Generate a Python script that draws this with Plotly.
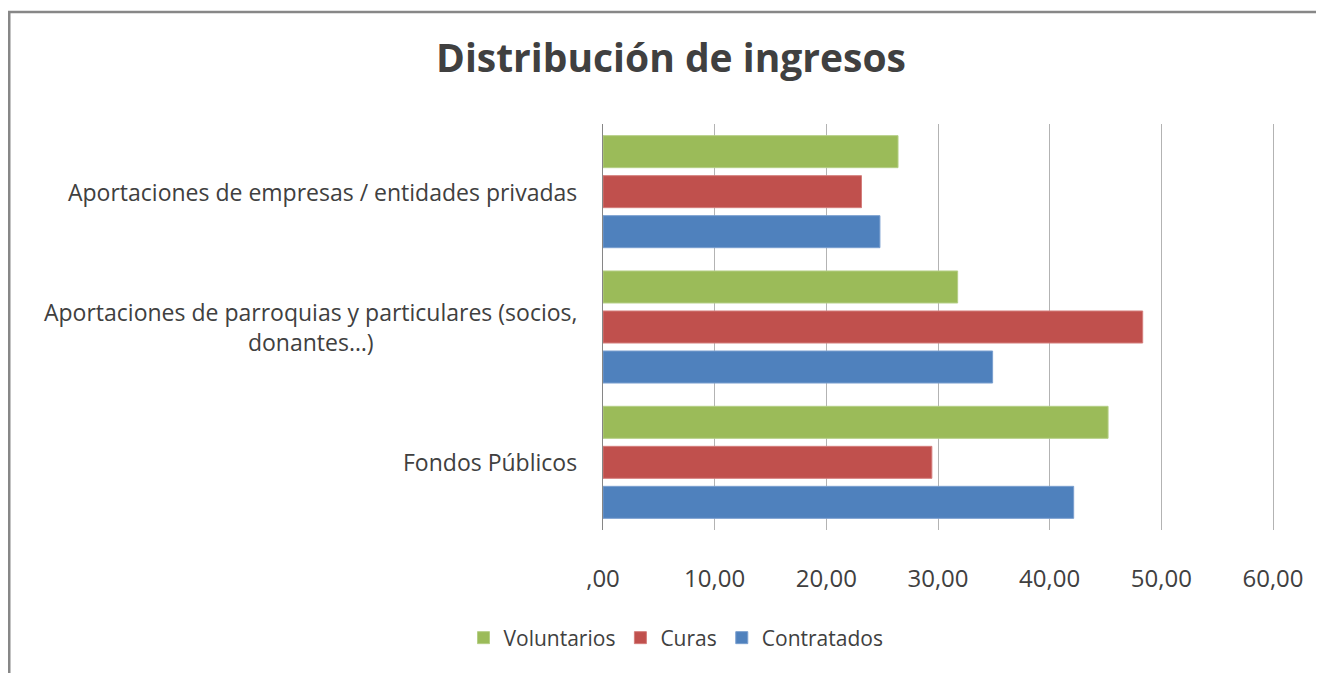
import plotly.graph_objects as go

categories = [
    "Fondos Públicos",
    "Aportaciones de parroquias y particulares (socios,<br>donantes…)",
    "Aportaciones de empresas / entidades privadas",
]
series_names = ["Contratados", "Curas", "Voluntarios"]
contratados = [42.15, 34.89, 24.80]
curas = [29.45, 48.33, 23.15]
voluntarios = [45.23, 31.76, 26.42]
tick_values = [0, 10, 20, 30, 40, 50, 60]
tick_labels = [",00", "10,00", "20,00", "30,00", "40,00", "50,00", "60,00"]

colors = {"Contratados": "#4F81BD", "Curas": "#C0504D", "Voluntarios": "#9BBB59"}
edge = {"Contratados": "#7A9FCF", "Curas": "#D47E7C", "Voluntarios": "#B5CF86"}
values = {"Contratados": contratados, "Curas": curas, "Voluntarios": voluntarios}

FONT = "Open Sans"
TXT = "#404040"

# page body has an 8px margin; figure is sized/offset to compensate
W, H = 1316, 665
PL, PR, PT, PB = 595, 1268, 116, 522
XMAX = 60 * (PR - PL) / 670.0

fig = go.Figure()
for name in series_names:
    fig.add_trace(go.Bar(
        y=categories, x=values[name], name=name, orientation="h",
        marker=dict(color=colors[name], line=dict(color=edge[name], width=1)),
    ))

for cat in categories:
    fig.add_annotation(
        x=0, xref="paper", y=cat, yref="y", text=cat, showarrow=False,
        xanchor="right", yanchor="middle", xshift=-24, align="center",
        font=dict(family=FONT, size=23, color=TXT),
    )

pw, ph = PR - PL, PB - PT
fig.update_layout(
    width=W, height=H,
    margin=dict(l=PL, r=W - PR, t=PT, b=H - PB, autoexpand=False),
    paper_bgcolor="white", plot_bgcolor="white",
    barmode="group", bargap=0.113, bargroupgap=0.2,
    title=dict(text="<b>Distribución de ingresos</b>", x=663 / W, xref="container",
               y=1 - 50 / H, yref="container", xanchor="center", yanchor="middle",
               font=dict(family=FONT, size=39, color=TXT)),
    legend=dict(orientation="h", traceorder="reversed", x=668 / W, xref="container",
                y=1 - 630 / H, yref="container", xanchor="center", yanchor="middle",
                font=dict(family=FONT, size=21, color=TXT), itemwidth=30),
    xaxis=dict(range=[0, XMAX], tickvals=tick_values, ticktext=tick_labels,
               showgrid=True, gridcolor="#B3B3B3", gridwidth=1.3,
               zeroline=False, showline=False,
               ticks="outside", ticklen=27, tickcolor="rgba(0,0,0,0)",
               tickfont=dict(family=FONT, size=24, color=TXT)),
    yaxis=dict(categoryorder="array", categoryarray=categories,
               showticklabels=False, showgrid=False, zeroline=False,
               showline=True, linecolor="#868686", linewidth=1.3),
    shapes=[dict(type="rect", xref="paper", yref="paper",
                 x0=(1.25 - PL) / pw, x1=(1340 - PL) / pw,
                 y0=-(700 - PB) / ph, y1=(PB - 4) / ph,
                 line=dict(color="#878787", width=2.5), layer="below")],
    showlegend=True,
)

fig.write_html("out.html")
